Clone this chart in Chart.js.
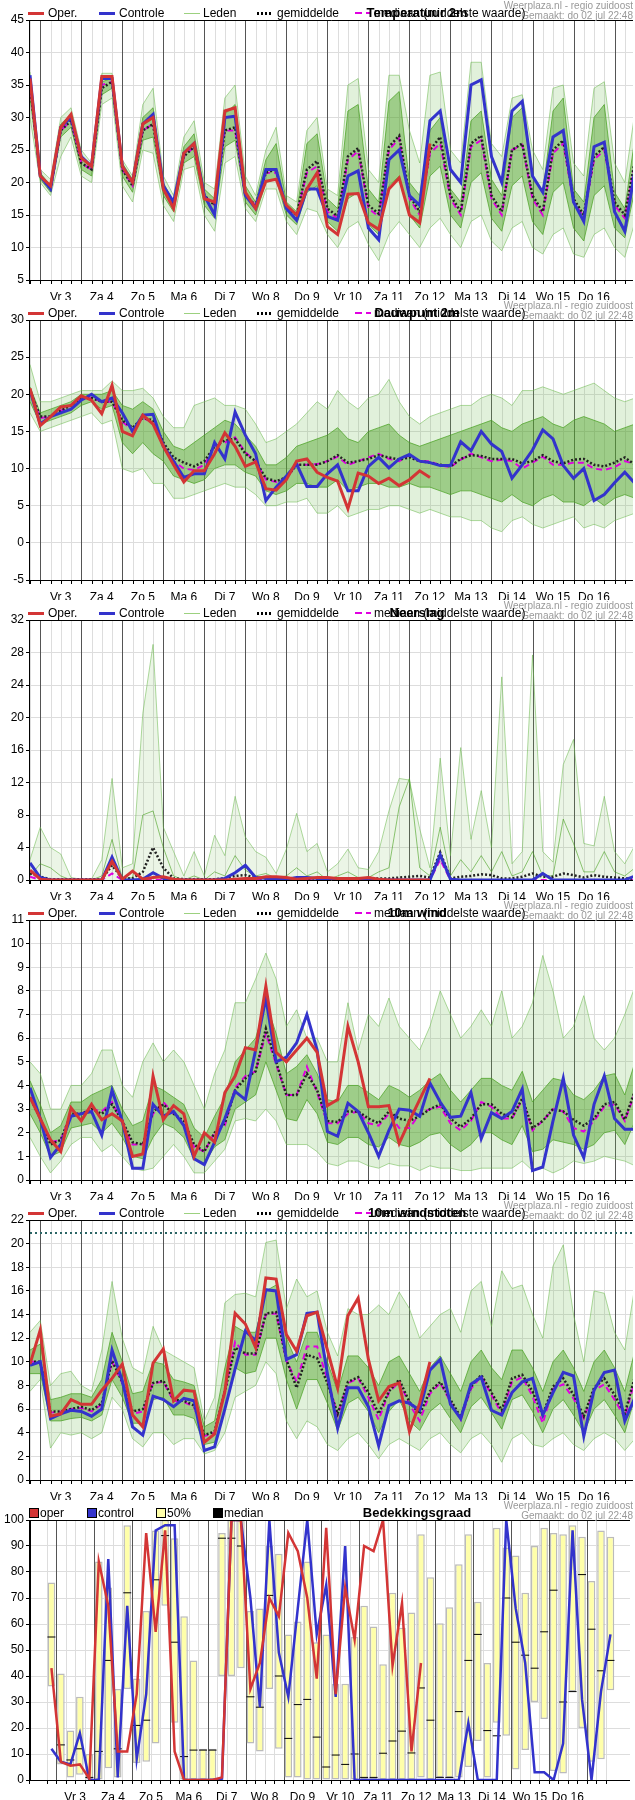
<!DOCTYPE html>
<html>
<head>
<meta charset="utf-8">
<script src="https://cdn.jsdelivr.net/npm/chart.js@4.4.0/dist/chart.umd.min.js"></script>
<style>
  body { margin: 0; background: #fff; font-family: "Liberation Sans", Arial, sans-serif; }
  .panel { position: relative; width: 635px; height: 300px; }
  .panel canvas { position: absolute; left: 0; top: 0; }
  .lg { position: absolute; top: 6px; font-size: 12px; color: #000; white-space: nowrap; line-height: 14px; }
  .sw { position: absolute; top: 12px; height: 3px; }
  .wm { position: absolute; right: 2px; font-size: 10px; color: #999; text-align: right; line-height: 10px; }
  .title { position: absolute; top: 6px; left: 417px; transform: translateX(-50%); font-size: 13px; font-weight: bold; white-space: nowrap; line-height: 14px; }
  .sq { position: absolute; top: 8px; width: 8px; height: 8px; border: 1px solid #000; }
</style>
</head>
<body>
<div id="root"></div>
<script>
// day labels (noon positions)
const dayLabels = ['Vr 3', 'Za 4', 'Zo 5', 'Ma 6', 'Di 7', 'Wo 8', 'Do 9', 'Vr 10', 'Za 11', 'Zo 12', 'Ma 13', 'Di 14', 'Wo 15', 'Do 16'];

// Temperatuur 2m
const t2mOper = [36,21,19.5,28.5,30.5,23.8,22.5,36.3,36.3,22.5,20,29,30,19,16,24.5,26,17.5,17,31,31.5,18.5,16,20.2,20.5,16.5,15,19,21.5,13.2,12,18.2,18.3,13.8,12.8,19,20.7,15,13.8,26];
const t2mCtrl = [36.5,21,19,28.5,30,24,22.5,36,36,22.5,20,29,30.5,19.5,17,24.5,26,18,15,30,30.2,18,16,22,22,16,14.2,19,19,14.8,14.2,21,21.8,13,11.2,23.5,25,18,16.5,29.5,31,22,20,35,35.8,24,20,31,32.5,21,18.5,27,28,17,14,25.5,26.2,15.5,12.5,22];
const t2mMean = [35,21,19,28,29.5,23,22,34.5,35.5,22,19.5,28,29,19,16.5,24,25.5,18,16.5,28,28.5,18,16.5,21.5,22,16,15,22,23.3,16,14.8,24,25.3,16.5,15.2,25.5,27.2,18,15.5,25,27,18,15.5,26,27.2,18,15.5,25,26,18,15.5,25,26.5,17.5,15,24,25.5,17,15,23.5];
const t2mMedian = [35,21,19,28,29.5,23,22,35,35.5,22,19.5,28,29,19,16.5,24,25.5,18,16.5,28,28,18,16.5,21.5,21.5,16,15,21.5,22.5,15.5,14.5,23.5,24.8,16,14.8,25,26.8,17.5,15,24.5,26,17.5,15,25.5,26.5,17.5,15,25,25.8,17.5,15,24.5,26,17,14.8,23.5,25,16.5,14.5,23];
const t2mHi = [37,22,20.5,30,31.5,25,23,36.8,36.8,23.5,21,32,34.5,21,18,27,29.5,20,19,33,35,21,18,25,28.5,18,17,28,30,19,18,35,36,22,20,36.5,36.5,28,23,36.5,37,25,23,38.5,38.5,26,24,33,33.5,25,22,34.5,35,23,21,34.5,35.5,23,20,31];
const t2mLo = [30,20,18,24,27,21,20,32,33,19.5,17,25,24.5,16.5,14,22,22.5,15,12.5,23,24,16,14,19,19,14,12,16,15.5,12,10,13,14,10.5,8,12,14,12,10,13,14.5,12,10,14,15,11,9.5,13,14,10,9,12,13,9,8.5,12,13,10,8.5,14];
const t2mM1 = [35,21.5,19.5,29,30.5,24,22.5,35.5,36,23,20.5,30,31.5,20,17,25.5,27.5,19,17.5,30.5,32,19.5,17,23.5,26,17,15.5,26,27.5,17.5,16,31,32,19,17,32.5,34,20,18,28,30,19,17,29.5,31,20.5,18,30,31.5,21,18.5,31,33,19,17,30,32,18.5,16,27];
const t2mM2 = [33,20.5,18.5,27,28.5,22,21,33.5,34.5,21,18.5,26.5,27,18,15.5,23,24,16.5,14.5,25.5,26.5,17,15,20,20.5,15,13.5,18.5,19.5,14,12.5,17.5,18.5,13.5,12,19.5,21,15,13,21,22.5,15,13,20,21.5,14.5,12.5,19.5,21,14,12,18.5,20,13,11,18,19.5,13,11.5,19];

// Dauwpunt 2m
const tdOper = [20.8,15.8,17,18.3,18.5,19.8,19.2,17.4,21.2,15,14.4,17.2,16,13,10.5,8.2,9.7,9.7,12,14.8,13,10.3,10.9,7.3,7.1,8.5,11,11.3,9.5,8.8,8.3,4.6,9.4,9,8,8.7,7.7,8.5,9.7,8.8];
const tdCtrl = [20.5,16,17,17.5,18,19.2,20,19,19.5,17.5,15,17.2,17.3,13,11,8.8,9.3,9.3,13.5,11.3,17.6,14.5,12,5.7,7.5,9,10.6,7.6,7.6,9.3,10.5,7,7,10.3,11.5,10.1,11.3,11.9,11,10.8,10.4,10.4,13.6,12.4,15,13.3,12.3,8.7,10.5,12.5,15.2,14,10.4,8.7,10,5.7,6.5,8.1,9.5,8];
const tdMean = [20.5,17,17,17.8,18.5,19.5,19.5,19,19,16.5,15.5,16.8,16.5,13.5,11.5,10.8,10.3,11,13,13.8,14,12,11,8.7,8.3,8.8,10.5,10.5,10.5,11,11.8,10.8,11,11.3,11.8,11.5,11.2,11.5,11,10.8,10.5,10.3,11.3,11.8,11.7,11.3,11.3,11.3,10.7,11,11.8,11,10.7,11.2,11.3,10.5,10.3,10.8,11.5,10.5];
const tdMedian = [20.5,16.8,17,17.8,18.5,19.5,19.5,19,19,16.3,15.2,16.8,16.2,13.2,11,10,9.8,10.5,13,13.5,14.2,12.2,11,8.5,8.2,8.7,10.5,10.5,10.6,11,11.6,10.5,11,11.5,12,11.3,11,11.8,11,11,10.4,10.2,11.2,12,11.5,11,11.2,11,10,10.8,11.6,10.5,10.5,10.8,10.8,10,9.8,10.2,11,10.6];
const tdHi = [24,19,19,19.5,20,20.5,20.5,20.5,21.8,20.5,20.5,20.8,19.5,17,15.5,15.5,18.5,19,19.5,18.5,18.5,18,16,13.5,14,15,16,17.5,19,18,20.5,19,18,19.5,20,22,19,17,16,17,17.5,18,18.5,18.5,19.5,20,19.5,18.5,20.5,20.5,21,20.5,20,20.5,21,21.5,20.5,19.5,19,19.5];
const tdLo = [17.5,15,15.5,16,16.5,17,17.5,16,16.5,10,9.5,10,8,8,6,6,6.5,7,7.5,8,7.5,7.5,6.5,5,5,5.5,5.5,6,4,4,5,3.5,4,4.5,4.5,5,5,4.5,4,4.5,4,3.5,3.5,3,3,2,1.5,3,3.5,2.5,2,2.5,3,3.5,2,2.5,2,3,3.5,4];
const tdM1 = [21,17.5,18,18.5,19,20,20,20,20.5,18.5,18,19,18,15,13,12.5,13.5,14.5,15.5,16.5,16,14.5,13,10.5,10.5,11.5,13,13.5,14,14.5,15.5,14,13.5,15,15.5,16,14.5,13.5,13,13.5,14,14.5,15,15.5,16,16.5,15.5,15,16,16.5,17,16,15.5,16.5,17,16.5,16,15,15.5,16];
const tdM2 = [19,16,16.5,17,17.5,18.5,19,18,18.5,13.5,12,13.5,12,11,9,8.5,8,8.5,10,10.5,10.5,9.5,9,7,6.5,7,8,8,7.5,7.5,8.5,7,7.5,8,8,7.5,7.5,8,7.5,7.5,7,6.5,7,7,6.5,6,5.5,6.5,5.5,5,6,6.5,5.5,5.5,5,6,5,6,6.5,6];

// Neerslag
const rrOper = [1.2,0.1,0,0,0,0,0,0,2.3,0.1,1.1,0.1,0.3,0.4,0.1,0,0,0,0,0,0.1,0.2,0.2,0.4,0.4,0.3,0.1,0.2,0.3,0.3,0.2,0.2,0.2,0.3,0.1,0,0,0,0,0];
const rrCtrl = [2.1,0.3,0,0,0,0,0,0,2.8,0,0,0.1,0.9,0.2,0,0,0,0,0,0.2,0.9,1.8,0.3,0.2,0.1,0.1,0.3,0.3,0.2,0.1,0,0,0,0,0,0,0,0,0,0,3.1,0.1,0,0,0,0,0,0,0,0,0.8,0,0,0,0,0,0,0,0,0.5];
const rrMean = [0.8,0.4,0.1,0.1,0.1,0.1,0.1,0.1,1.8,0.2,0.2,1,4,1.5,0.2,0.1,0.1,0.1,0.1,0.2,0.5,0.6,0.3,0.2,0.2,0.2,0.2,0.2,0.2,0.2,0.2,0.2,0.2,0.2,0.2,0.2,0.3,0.4,0.5,0.3,3.4,0.2,0.4,0.5,0.7,0.6,0.2,0.2,0.4,0.8,0.4,0.4,0.8,0.6,0.3,0.6,0.4,0.3,0.2,0.2];
const rrMedian = [0.4,0,0,0,0,0,0,0,0.8,0,0,0,0,0,0,0,0,0,0,0,0,0,0,0,0,0,0,0,0,0,0,0,0,0,0,0,0,0,0,0,2.5,0,0,0,0,0,0,0,0,0,0,0,0,0,0,0,0,0,0,0];
const rrHi = [2.5,6.5,4,3.2,0.3,0.1,0.1,2.5,12.5,1.5,2,20.5,29,6.5,3.5,0.5,3.5,0.5,5.5,3,10.3,5.3,3.5,2.8,0.8,3.8,8.2,3.5,4.5,1,2,3.8,1.5,1.3,3.5,8.5,12.5,12.3,6.3,1.5,15,3,16.3,5,11,4,25,2,3.5,27.7,3.5,2.2,14.2,17.3,4.5,4.2,10.3,3.5,2,4.3];
const rrM1 = [0.5,2,1.5,0.5,0,0,0,0.5,5,0.2,0.3,8,8.5,4,0.5,0,0.5,0,1,0.5,3,1.2,0.5,0.8,0.2,0.5,1.5,0.5,1,0,0.5,1,0.3,0.3,1,1.5,9,12.5,1.5,0.5,6.5,0.5,2.5,1,3,1,3.5,0.5,1,3.5,0.5,0.5,7.5,4.5,1,1,3.5,1,0.5,1.5];

// 10m wind
const wOper = [3.5,2.6,1.7,1.2,3.05,2.5,3.2,2.55,2.8,2.5,1,1.1,4.4,2.55,3.15,2.8,1,2,1.6,3.7,4.4,5.6,5.5,8.2,5.4,5,5.5,6,5.4,3.15,3.4,6.5,5,3.1,3.1,3.15,1.55,2.5,3.4,4.3];
const wCtrl = [3.9,2.6,0.95,1.5,2.7,2.8,2.9,1.9,3.8,2.5,0.5,0.5,3.2,2.7,2.9,2.3,0.9,0.65,1.6,2.6,3.75,3.4,5.5,7.7,5,5.2,5.8,7,5.5,2.05,1.85,3.25,2.9,2,1,2.1,3,2.95,2.7,4.1,3.3,2.65,2.7,3.7,1.75,2.85,2.6,2.9,3.85,0.4,0.55,2.5,4.3,1.9,0.95,3.2,4.4,2.6,2.15,2.15];
const wMean = [3.5,2.6,1.5,1.7,2.8,2.8,3,2.8,3.2,2.5,1.6,1.5,2.9,3.2,2.8,2.5,1.5,1.2,2,2.4,3.8,4.3,4.6,6.4,5,3.6,3.6,4.5,3.8,2.5,2.45,2.9,2.9,2.6,2.4,2.9,2.6,2.5,2.7,3,3.2,2.6,2.25,2.6,3.2,3.2,2.8,2.65,3.45,2.2,2.5,3,2.9,2.55,2.3,2.6,3.2,3.3,2.55,3.8];
const wMedian = [3.5,2.6,1.6,1.7,2.8,2.8,3,2.9,3.3,2.4,1.5,1.5,2.8,3.3,2.8,2.4,1.4,1.2,2,2.3,3.9,4.4,4.6,6.2,4.9,3.6,3.6,4.8,3.7,2.4,2.4,2.8,2.9,2.4,2.3,2.8,2.2,2.2,2.8,3,3.1,2.4,2.1,2.5,3.3,3.1,2.6,2.6,3.4,2.1,2.5,3,2.9,2.2,2.05,2.5,3.1,3.2,2.5,3.7];
const wHi = [5,4.5,3,3,4,4,4.5,5.5,5.5,4,3.5,5,5.8,5,5.5,5,4,3,4.5,5.5,7.5,7.5,8.5,9.6,8.5,6.5,7.2,6,6,5,5,7.5,5.5,7,6.5,7.7,6.5,6,5.5,6.5,8,7,6,6.5,7.2,6.5,8,6,6.5,7.5,9.5,8,6,6.5,7.8,6,5.5,6,7,8.2];
const wLo = [1.8,1,0.3,0.8,1.5,1.8,1.8,1.2,1.5,1,0.5,0.4,0.5,1,1.5,1,0.3,0.3,0.8,1.3,2.5,2.6,2.5,3,2.5,1.5,1.5,1.5,1.2,0.7,0.6,0.8,0.8,0.6,0.5,0.7,0.6,0.6,0.4,0.6,0.5,0.5,0.4,0.4,0.5,0.5,0.5,0.5,0.8,0.4,0.5,0.3,0.5,0.8,0.7,0.8,1,0.9,0.8,0.6];
const wM1 = [4.2,3.2,2,2.3,3.3,3.3,3.6,3.8,4,3,2.3,2.5,4,3.8,3.5,3.2,2.2,1.8,2.7,3.5,5,5.5,6,7.5,6.2,4.5,4.8,5.3,4.5,3.4,3.3,4,4,3.7,3.4,4,3.8,3.5,3.8,4.2,4.5,3.8,3.3,3.8,4.3,4.3,4,3.8,4.6,3.3,3.8,4.3,4.2,3.6,3.4,3.8,4.4,4.5,3.6,5];
const wM2 = [2.8,2,1,1.2,2.2,2.3,2.4,2,2.4,1.8,1,0.9,1.8,2.4,2.2,1.8,0.9,0.7,1.4,1.7,3,3.3,3.6,5,3.8,2.6,2.5,3.4,2.8,1.6,1.5,1.8,1.8,1.5,1.4,1.8,1.5,1.4,1.6,1.9,2,1.5,1.2,1.5,2,2,1.7,1.5,2.3,1.2,1.3,1.7,1.6,1.5,1.3,1.5,2,2.1,1.5,2.5];

// 10m windstoten
const gOper = [9.8,12.7,5.4,5.6,6.8,6.4,6.4,7.6,8.6,9.8,5.5,4.5,9.9,11.1,6.7,7.6,7.5,3.2,3.9,7.5,14.1,13.2,11.2,17.1,17,12.3,10.9,13.9,14.2,11,7.8,13.9,15.4,10.2,6.7,7.9,8.2,4.1,6.5,10];
const gCtrl = [9.7,10,5.2,5.6,5.9,5.8,5.4,6,11,8.4,4.5,3.8,7.1,6.8,6.2,6.9,6.7,2.5,2.8,6,9.4,12.6,11.8,16.1,16,10.2,10.6,14.1,14.2,9,4.4,7.8,7.8,6.2,2.9,6.3,6.7,6.5,5.9,9.3,10.2,6.4,5.2,8.1,8.7,5.9,5.5,7.4,8.3,8.6,5.5,7.4,9.1,8.8,3.7,7.6,9.1,9.3,5,7];
const gMean = [10,10,5.8,5.8,6,6.2,5.9,6.5,10.1,8.3,5.8,6,8.2,8.4,6.8,6.7,6.3,3.8,4.1,7.5,11.2,10.7,10.7,14.1,14.2,10.2,7.8,10.6,10.3,8.2,5.6,8.3,8.7,7.4,5.6,7.5,8.5,6.6,5.6,7.5,8.3,6.8,5.3,7.9,8.9,7.4,5.9,8.6,8.9,7.5,5.5,7.9,8.6,7.2,5.4,7.8,8.6,7.2,5.6,8.8];
const gMedian = [10,10,5.7,5.8,6,6.1,5.8,6.4,10,8.2,5.6,5.8,8.2,8.3,6.7,6.6,6.2,3.7,4,7.4,11.7,10.6,10.6,14,14.1,10.1,8.3,11.3,11.3,8.5,5.5,8.2,8.6,7,5.1,7.4,8.3,6.4,5,7.3,8.2,6.6,5.1,7.7,8.8,7.2,5.6,8.3,8.7,7.1,4.8,7.7,8.1,6.9,5.2,7.6,8.1,6.8,5.3,8.5];
const gHi = [12.5,13.5,8,9,9.2,8,7.5,11,16.8,12,9.5,9,13,11,10.5,10,9.5,5,7,15,15.7,15.8,15.5,20.1,20.3,14.5,17,15.5,16,12.5,10.5,14.5,14,14,14.8,14,15.9,14.5,12,13,14,14.5,12.5,16,16.8,13,17.7,16.2,16.5,14,12,18.1,19.9,14,10,16,15.8,12.5,11,16.5];
const gLo = [7.5,8.5,2.7,4,3.8,4,3.5,4,7,6,3.5,2.8,4,4,3,3.5,3.5,2.2,2.5,4,7,7.5,8,10,9,5,3.5,5,4.5,3,2.5,3.5,4,3,1.8,3,3.5,3,2.5,3.5,4,3,2.3,3.5,4,3,1.5,3.5,4,3,2.8,3.5,4,3,2.5,3.5,4,3.5,2.5,3.5];
const gM1 = [11,11.5,6.8,7,7.3,7.3,7,8.5,12.5,10,7.3,7.5,10,9.8,8.5,8.3,8,4.5,5,9.5,13,12.5,12.5,16,16.5,12,10,12.5,12.5,10,7.5,10.5,10.5,9.5,8,10,10.5,9,7.5,9.5,10.5,9,7.5,10,11,9.5,8.5,11,11,9.5,7.5,10,11,9.5,7.5,10,11,9.5,7.5,11];
const gM2 = [9,9,5,5,5.2,5.3,5,5.5,8.5,7,4.8,4.8,6.8,7,5.5,5.5,5.2,3,3.2,6,9.5,9,9.2,12,12,8.5,6,8.5,8.5,6.5,4.2,6.5,7,5.8,4,5.8,6.8,5,4.2,5.8,6.5,5.2,4,6.2,7,5.7,4.3,6.8,7.2,5.8,4,6,6.8,5.5,4,6,6.8,5.5,4,7];
const gustLimit = 20.9;

// Bedekkingsgraad
const ccOper = [43,7,5.5,6,0.5,84,67,11,11,33,95,57,96,11,0,0,0,0,1,100,100,35,45,70,63,95,88,70,39,97,33,74,54,90,88,100,44,68,11,45];
const ccCtrl = [12,7,6,18,0,0,85,1,67,8,33,96,98,98,0,0,0,0,0.5,100,100,70,28,100,49,32,66,100,56,75,32,90,0,0,0,0,0,0,0,0,0,0,0,0,22,0,0,0,100,66,45,3,3,0,14,96,31,0,34,56];
const cc25 = [36,6,1,2,0,0,4.5,1,35,6.5,7,14,67,22,0,0,0,0,40,40,43,14,11,35,12,1,1,0,0,0,0,0,0,0,0,0,0,0,0,1,0,1,1,1,5,15,1,22,17,4,11.5,30,23.5,3.5,2.5,34,20,7,8,34.5];
const cc75 = [76,41,19,32,10,84,74,35,98,39,65,96,100,93,63,46,12,12,95,100,100,65,66,90,87,56,61,84,53,56,37,37,55,67,59,44.5,72,58.6,64.4,94.5,78,60.3,66.4,83,94.5,68.6,45,97,89.4,86.3,72,90,97,95,94.5,98,93.6,76.5,96,93.6];
const ccMed = [55,13.5,7.7,12,1,11,46,12,72,21,23,77,94,53,9,11.5,11.5,11.5,93,93,90,32,28,71,40,16,29,31,16.5,5,9.6,6,10,1,1,10.3,15,18.8,10.4,35.4,23,1,1,26.3,46,56,19,17,70,53,48,43,57,73,30,34,79,58,42,46];

const RED = '#d33535', BLUE = '#3333cc', GREEN = '#55aa2a';

function xy(arr) {
  return arr.map((v, i) => ({ x: i, y: v }));
}

function addPanel(top, opts) {
  const root = document.getElementById('root');
  const div = document.createElement('div');
  div.className = 'panel';
  let html = '<div class="wm" style="top:' + (opts.wmTop ?? 1) + 'px">Weerplaza.nl - regio zuidoost<br>Gemaakt: do 02 jul 22:48</div>';
  if (opts.cloud) {
    html += '<div class="sq" style="left:29px;background:' + RED + '"></div><div class="lg" style="left:40px">oper</div>' +
      '<div class="sq" style="left:87px;background:' + BLUE + '"></div><div class="lg" style="left:98px">control</div>' +
      '<div class="sq" style="left:156px;background:#ffffaa"></div><div class="lg" style="left:167px">50%</div>' +
      '<div class="sq" style="left:213px;background:#000"></div><div class="lg" style="left:224px">median</div>';
  } else {
    html += '<div class="sw" style="left:28px;width:16px;background:' + RED + '"></div><div class="lg" style="left:48px">Oper.</div>' +
      '<div class="sw" style="left:99px;width:16px;background:' + BLUE + '"></div><div class="lg" style="left:119px">Controle</div>' +
      '<div class="sw" style="left:184px;width:16px;height:1px;top:13px;background:#9cd17f"></div><div class="lg" style="left:203px">Leden</div>' +
      '<div class="sw" style="left:257px;width:16px;background:repeating-linear-gradient(90deg,#000 0 2px,transparent 2px 4px)"></div><div class="lg" style="left:277px">gemiddelde</div>' +
      '<div class="sw" style="left:355px;width:16px;height:2px;background:repeating-linear-gradient(90deg,#e000e0 0 7px,transparent 7px 11px)"></div><div class="lg" style="left:374px">mediaan (middelste waarde)</div>';
  }
  html += '<div class="title">' + opts.title + '</div>';
  div.innerHTML = '<canvas width="635" height="300"></canvas>' + html;
  root.appendChild(div);
  const canvas = div.querySelector('canvas');
  canvas.style.width = '635px';
  canvas.style.height = '300px';
  return canvas;
}

// draws 6-hour grid, midnight lines, tick marks and top frame
const framePlugin = {
  id: 'frame',
  beforeDatasetsDraw(chart, args, o) {
    const { ctx, chartArea: a, scales: { x } } = chart;
    const off = o.offset || 0;
    ctx.save();
    ctx.lineWidth = 1;
    for (let i = 0; i < 60; i++) {
      const px = Math.round(x.getPixelForValue(i + off)) + 0.5;
      if (px < a.left || px > a.right) continue;
      const midnight = (i - 1) % 4 === 0;
      ctx.strokeStyle = midnight ? '#555' : '#dddddd';
      ctx.beginPath(); ctx.moveTo(px, a.top); ctx.lineTo(px, a.bottom); ctx.stroke();
    }
    ctx.restore();
  },
  afterDraw(chart, args, o) {
    const { ctx, chartArea: a, scales: { x } } = chart;
    const off = o.offset || 0;
    ctx.save();
    ctx.strokeStyle = '#000';
    ctx.lineWidth = 1;
    ctx.beginPath();
    ctx.moveTo(a.left - 0.5, a.top + 0.5); ctx.lineTo(a.right, a.top + 0.5);
    ctx.moveTo(a.left - 0.5, a.top); ctx.lineTo(a.left - 0.5, a.bottom + 4);
    ctx.moveTo(a.left, a.bottom + 0.5); ctx.lineTo(a.right, a.bottom + 0.5);
    for (let i = 0; i < 60; i++) {
      const px = Math.round(x.getPixelForValue(i + off)) + 0.5;
      if (px < a.left || px > a.right) continue;
      ctx.moveTo(px, a.bottom); ctx.lineTo(px, a.bottom + 4);
    }
    ctx.stroke();
    ctx.restore();
  }
};

function baseScales(ymin, ymax, ystep, off) {
  return {
    x: {
      type: 'linear', min: 0, max: 58.8,
      grid: { display: false },
      border: { display: false },
      afterBuildTicks: s => { s.ticks = dayLabels.map((_, k) => ({ value: 3 + 4 * k + off })); },
      afterFit: s => { s.height = 20; },
      ticks: {
        autoSkip: false, maxRotation: 0, padding: 2,
        color: '#000', font: { family: 'Liberation Sans, Arial', size: 12 },
        callback: (v) => dayLabels[Math.round((v - 3 - off) / 4)]
      }
    },
    y: {
      min: ymin, max: ymax,
      grid: { color: '#dddddd', drawTicks: true, tickLength: 4, tickColor: '#000' },
      border: { color: '#000' },
      afterFit: s => { s.width = 30; },
      ticks: { stepSize: ystep, padding: 2, color: '#000', font: { family: 'Liberation Sans, Arial', size: 12 } }
    }
  };
}

function line(data, color, width, extra) {
  return Object.assign({ type: 'line', data: xy(data), borderColor: color, borderWidth: width, pointRadius: 0, fill: false, tension: 0 }, extra || {});
}

function ensembleChart(top, title, s, ymin, ymax, ystep, extraSets) {
  const canvas = addPanel(top, { title });
  const sets = [
    line(s.oper, RED, 3, { order: 0 }),
    line(s.ctrl, BLUE, 3, { order: 1 }),
    line(s.mean, '#222', 2.5, { borderDash: [2, 2], order: 2 }),
    line(s.median, '#e000e0', 2, { borderDash: [6, 4], order: 3 })
  ];
  if (s.lo) {
    sets.push(line(s.hi, 'rgba(110,185,80,0.55)', 1, { fill: '+1', backgroundColor: 'rgba(120,190,90,0.22)', order: 12 }));
    sets.push(line(s.lo, 'rgba(110,185,80,0.55)', 1, { order: 13 }));
  } else {
    sets.push(line(s.hi, 'rgba(110,185,80,0.55)', 1, { fill: 'origin', backgroundColor: 'rgba(120,190,90,0.15)', order: 12 }));
  }
  if (s.m2) {
    sets.push(line(s.m1, 'rgba(70,160,30,0.7)', 1, { fill: '+1', backgroundColor: 'rgba(75,160,35,0.45)', order: 10 }));
    sets.push(line(s.m2, 'rgba(70,160,30,0.7)', 1, { order: 11 }));
  } else {
    sets.push(line(s.m1, 'rgba(70,160,30,0.6)', 1, { order: 10 }));
  }
  (extraSets || []).forEach(d => sets.push(d));
  new Chart(canvas, {
    data: { datasets: sets },
    options: {
      responsive: false, animation: false,
      layout: { padding: { top: 20, right: 2, left: 0, bottom: 0 } },
      plugins: { legend: { display: false }, tooltip: { enabled: false }, frame: { offset: 0 } },
      scales: baseScales(ymin, ymax, ystep, 0)
    },
    plugins: [framePlugin]
  });
}

ensembleChart(0, 'Temperatuur 2m', { oper: t2mOper, ctrl: t2mCtrl, mean: t2mMean, median: t2mMedian, hi: t2mHi, lo: t2mLo, m1: t2mM1, m2: t2mM2 }, 5, 45, 5);
ensembleChart(300, 'Dauwpunt 2m', { oper: tdOper, ctrl: tdCtrl, mean: tdMean, median: tdMedian, hi: tdHi, lo: tdLo, m1: tdM1, m2: tdM2 }, -5, 30, 5);
ensembleChart(600, 'Neerslag', { oper: rrOper, ctrl: rrCtrl, mean: rrMean, median: rrMedian, hi: rrHi, m1: rrM1 }, 0, 32, 2);
ensembleChart(900, '10m wind', { oper: wOper, ctrl: wCtrl, mean: wMean, median: wMedian, hi: wHi, lo: wLo, m1: wM1, m2: wM2 }, 0, 11, 1);
ensembleChart(1200, '10m windstoten', { oper: gOper, ctrl: gCtrl, mean: gMean, median: gMedian, hi: gHi, lo: gLo, m1: gM1, m2: gM2 }, 0, 22, 2,
  [{ type: 'line', data: [{ x: 0, y: gustLimit }, { x: 59, y: gustLimit }], borderColor: '#2a6464', borderWidth: 2, borderDash: [2, 3], pointRadius: 0, order: 5 }]);

// cloud cover panel
(function () {
  const canvas = addPanel(1500, { title: 'Bedekkingsgraad', cloud: true });
  const scales = baseScales(0, 100, 10, -0.5);
  new Chart(canvas, {
    data: {
      datasets: [
        line(ccOper, RED, 2.5, { order: 0 }),
        line(ccCtrl, BLUE, 2.5, { order: 1 }),
        { type: 'scatter', data: xy(ccMed), pointStyle: 'line', pointRadius: 4, borderColor: '#000', borderWidth: 1, order: 2 },
        { type: 'bar', data: cc75.map((v, i) => ({ x: i, y: [cc25[i], v] })), backgroundColor: '#ffffaa', borderColor: '#bbbbbb', borderWidth: 1.5, borderSkipped: false, barPercentage: 0.8, categoryPercentage: 1, grouped: false, order: 5 }
      ]
    },
    options: {
      responsive: false, animation: false,
      layout: { padding: { top: 20, right: 2, left: 0, bottom: 0 } },
      plugins: { legend: { display: false }, tooltip: { enabled: false }, frame: { offset: -0.5 } },
      scales
    },
    plugins: [framePlugin]
  });
})();
</script>
</body>
</html>
